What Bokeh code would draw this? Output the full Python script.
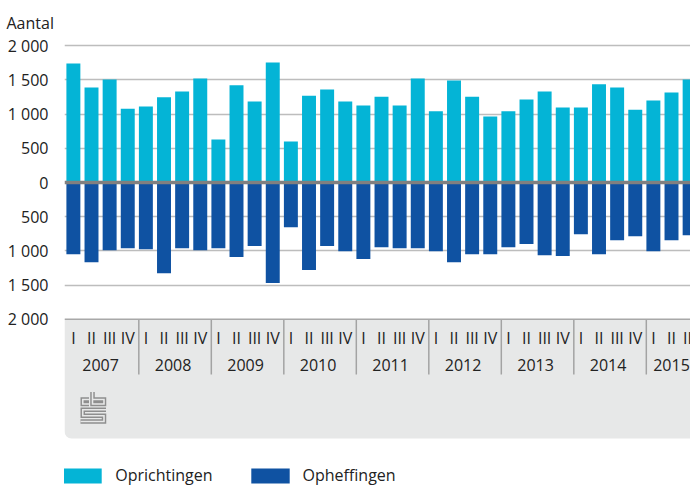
from bokeh.plotting import figure
from bokeh.models import FixedTicker, Span, Legend, LegendItem, Range1d, Title
from bokeh.core.properties import value
from bokeh.embed import file_html
from bokeh.resources import INLINE

# ---------------- data ----------------
years = ["2007", "2008", "2009", "2010", "2011", "2012", "2013", "2014", "2015"]
quarters = ["I", "II", "III", "IV"]
quarters_per_year = [4, 4, 4, 4, 4, 4, 4, 4, 3]
oprichtingen = [1740, 1390, 1505, 1080, 1110, 1245, 1330, 1520,
                630, 1420, 1185, 1755, 600, 1270, 1360, 1185,
                1125, 1255, 1125, 1520, 1040, 1490, 1255, 965,
                1040, 1215, 1330, 1095, 1095, 1435, 1390, 1065,
                1200, 1315, 1505]
opheffingen = [1050, 1165, 990, 960, 975, 1325, 960, 990,
               960, 1090, 930, 1470, 655, 1280, 930, 1005,
               1120, 945, 960, 960, 1005, 1165, 1050, 1050,
               945, 900, 1065, 1075, 755, 1050, 845, 785,
               1005, 845, 770]
y_ticks = [2000, 1500, 1000, 500, 0, -500, -1000, -1500, -2000]
y_tick_labels = ["2 000", "1 500", "1 000", "500", "0", "500", "1 000", "1 500", "2 000"]

# ---------------- layout ----------------
W, H = 690, 488
F_LEFT, F_TOP = 64, 40
PX_Q = 18.125          # px per quarter slot
PX_U = 0.0684          # px per unit
ZERO_Y = 182           # px of value 0
x_start = -0.1
x_end = x_start + (W - F_LEFT) / PX_Q
y_end = (ZERO_Y - F_TOP) / PX_U
y_start = -(H - ZERO_Y) / PX_U

def ydat(py):
    return (ZERO_Y - py) / PX_U

def xdat(px):
    return x_start + (px - F_LEFT) / PX_Q

BAR_OFF = 0.39
BAR_W = 0.77
CYAN = "#04b4d6"
DARK = "#0f52a2"
TXT = "#222222"
BOX = "#e7e8e8"
FONT = "Open Sans"

# periods
q_x, q_lab, y_x, y_lab, seps = [], [], [], [], []
idx = 0
for yr, n in zip(years, quarters_per_year):
    if idx > 0:
        seps.append(idx)
    for q in quarters[:n]:
        q_x.append(idx + BAR_OFF)
        q_lab.append(q)
        idx += 1
    y_x.append(idx - n + (n - 1) / 2 + BAR_OFF)
    y_lab.append(yr)

title = Title(text="Aantal", align="left", offset=-58, standoff=14,
              text_font=FONT, text_font_size="16px", text_font_style="normal",
              text_color=TXT)

p = figure(width=W, height=H, output_backend="svg", toolbar_location=None,
           x_range=Range1d(x_start, x_end), y_range=Range1d(y_start, y_end),
           x_axis_location=None, min_border_left=F_LEFT, min_border_right=0,
           min_border_top=F_TOP, min_border_bottom=0, title=title)
p.outline_line_color = None
p.background_fill_color = "white"
p.border_fill_color = "white"

# y axis
p.yaxis.ticker = FixedTicker(ticks=y_ticks)
p.yaxis.major_label_overrides = {t: l for t, l in zip(y_ticks, y_tick_labels)}
p.yaxis.axis_line_color = None
p.yaxis.major_tick_line_color = None
p.yaxis.minor_tick_line_color = None
p.yaxis.major_tick_out = 0
p.yaxis.major_tick_in = 0
p.yaxis.minor_tick_out = 0
p.yaxis.major_label_standoff = 16
p.yaxis.major_label_text_font = FONT
p.yaxis.major_label_text_font_size = "16px"
p.yaxis.major_label_text_color = TXT

p.xgrid.visible = False
p.ygrid.ticker = FixedTicker(ticks=[t for t in y_ticks if t not in (0, -2000)])
p.ygrid.grid_line_color = "#bdbdbd"
p.ygrid.grid_line_width = 1.5

# category panel background
p.quad(left=x_start, right=x_end + 2, top=-2000, bottom=ydat(438),
       fill_color=BOX, line_color=None, border_radius=(0, 0, 0, 7))

# bars
r1 = p.vbar(x=q_x, top=oprichtingen, bottom=0, width=BAR_W,
            fill_color=CYAN, line_color=None)
r2 = p.vbar(x=q_x, top=0, bottom=[-v for v in opheffingen], width=BAR_W,
            fill_color=DARK, line_color=None)

p.add_layout(Span(location=-2000, dimension="width", line_color="#a8a8a8", line_width=1.5))
p.add_layout(Span(location=0, dimension="width", line_color="#808080", line_width=3.5))

# separators
sep_top, sep_bot = -2000, ydat(374)
p.segment(x0=seps, x1=seps, y0=[sep_top] * len(seps), y1=[sep_bot] * len(seps),
          line_color="#a3a3a3", line_width=1.5)

# category labels
p.text(x=q_x, y=[ydat(337.5)] * len(q_x), text=q_lab, text_font=value(FONT),
       text_font_size="16px", text_align="center", text_baseline="middle", text_color=TXT)
p.text(x=y_x, y=[ydat(364)] * len(y_x), text=y_lab, text_font=value(FONT),
       text_font_size="16px", text_align="center", text_baseline="middle", text_color=TXT)

# logo (decoration)
LX, LY = 80, 391
logo_paths = [
    [(8.5, 8), (2.25, 8), (2.25, 12.5), (8.5, 12.5)],
    [(12, 0.5), (12, 12.5), (23.5, 12.5), (23.5, 8), (12, 8)],
    [(25.5, 18.25), (2.25, 18.25), (2.25, 24.25), (23.5, 24.25), (23.5, 30), (0, 30)],
]
lxs = [[xdat(LX + a) for a, b in path] for path in logo_paths]
lys = [[ydat(LY + b) for a, b in path] for path in logo_paths]
p.multi_line(xs=lxs, ys=lys, line_color="#8e8e8e", line_width=4.5, line_join="miter")
p.multi_line(xs=lxs, ys=lys, line_color=BOX, line_width=1.6, line_join="miter")

# legend
legend = Legend(items=[LegendItem(label="Oprichtingen", renderers=[r1]),
                       LegendItem(label="Opheffingen", renderers=[r2])],
                orientation="horizontal", location=(-5.8, 2),
                glyph_width=48, glyph_height=19, label_height=19,
                label_standoff=9, spacing=33, padding=0, margin=0,
                border_line_color=None, background_fill_alpha=0,
                label_text_font=FONT, label_text_font_size="16px",
                label_text_color=TXT)
p.add_layout(legend)

open("out.html", "w").write(file_html(p, INLINE))
